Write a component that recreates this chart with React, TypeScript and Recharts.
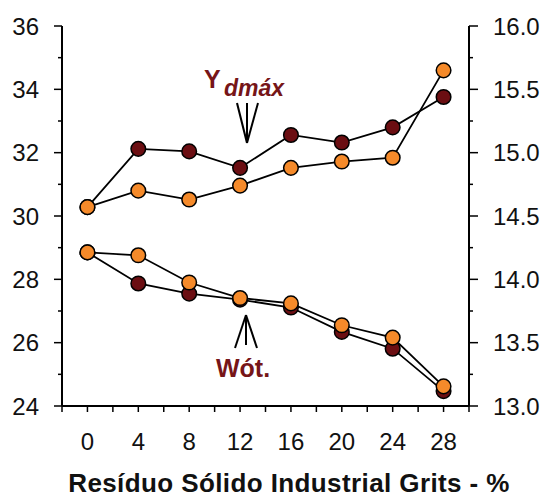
import { Line, LineChart, XAxis, YAxis } from "recharts"

const residue = [0, 4, 8, 12, 16, 20, 24, 28]
const ydmaxDark = [14.57, 15.03, 15.01, 14.88, 15.14, 15.08, 15.2, 15.44]
const ydmaxOrange = [14.57, 14.7, 14.63, 14.74, 14.88, 14.93, 14.96, 15.65]
const wotDark = [28.85, 27.87, 27.55, 27.36, 27.11, 26.34, 25.81, 24.47]
const wotOrange = [28.85, 28.76, 27.9, 27.41, 27.24, 26.55, 26.16, 24.62]

const xTicks = [-2, 0, 2, 4, 6, 8, 10, 12, 14, 16, 18, 20, 22, 24, 26, 28, 30]
const leftTicks = [24, 25, 26, 27, 28, 29, 30, 31, 32, 33, 34, 35, 36]
const rightTicks = [13, 13.25, 13.5, 13.75, 14, 14.25, 14.5, 14.75, 15, 15.25, 15.5, 15.75, 16]

const FONT = '"Liberation Sans", Arial, sans-serif'
const DARK = "#6b0e12"
const ORANGE = "#f58a2a"
const LABEL = "#761518"

const data = residue.map((x, i) => ({
  x,
  ydDark: ydmaxDark[i],
  ydOrange: ydmaxOrange[i],
  wDark: wotDark[i],
  wOrange: wotOrange[i],
}))

function LeftTick({ x, y, payload }: any) {
  const major = payload.value % 2 === 0
  return (
    <g>
      <line x1={x + 15 + (major ? 0 : 4)} x2={x + 23} y1={y} y2={y} stroke="#000" strokeWidth={1.5} />
      {major && (
        <text x={x} y={y} dy="0.36em" textAnchor="end" fontSize={24} fontFamily={FONT} fill="#111">
          {payload.value}
        </text>
      )}
    </g>
  )
}

function RightTick({ x, y, payload }: any) {
  const major = Math.abs(payload.value * 2 - Math.round(payload.value * 2)) < 1e-6
  return (
    <g>
      <line x1={x - 24} x2={x - 15 - (major ? 0 : 5)} y1={y} y2={y} stroke="#000" strokeWidth={1.5} />
      {major && (
        <text x={x} y={y} dy="0.36em" textAnchor="start" fontSize={24} fontFamily={FONT} fill="#111">
          {payload.value.toFixed(1)}
        </text>
      )}
    </g>
  )
}

const dot = (fill: string) => ({ r: 7.3, fill, stroke: "#000", strokeWidth: 1.5 })

export default function App() {
  return (
    <div style={{ position: "absolute", left: 0, top: 0, width: 547, height: 498, background: "#fff" }}>
      <LineChart width={547} height={498} data={data} margin={{ top: 26, right: 0, bottom: 0, left: 0 }}>
        <XAxis
          dataKey="x"
          type="number"
          domain={[-2, 30]}
          ticks={xTicks}
          interval={0}
          height={92}
          tickSize={6}
          tickMargin={21}
          tickFormatter={(v: number) => (v >= 0 && v <= 28 && v % 4 === 0 ? String(v) : "")}
          tick={{ fill: "#111", fontSize: 24, fontFamily: FONT }}
          tickLine={{ stroke: "#000", strokeWidth: 1.5 }}
          axisLine={{ stroke: "#000", strokeWidth: 2 }}
        />
        <XAxis
          xAxisId="top"
          orientation="top"
          dataKey="x"
          type="number"
          domain={[-2, 30]}
          height={0}
          tick={false}
          tickLine={false}
          axisLine={{ stroke: "#000", strokeWidth: 2 }}
        />
        <YAxis
          yAxisId="left"
          type="number"
          domain={[24, 36]}
          ticks={leftTicks}
          interval={0}
          width={62}
          tickSize={8}
          tickMargin={15}
          tickLine={false}
          tick={<LeftTick />}
          axisLine={{ stroke: "#000", strokeWidth: 2 }}
        />
        <YAxis
          yAxisId="right"
          orientation="right"
          type="number"
          domain={[13, 16]}
          ticks={rightTicks}
          interval={0}
          width={78}
          tickSize={9}
          tickMargin={15}
          tickLine={false}
          tick={<RightTick />}
          axisLine={{ stroke: "#000", strokeWidth: 2 }}
        />
        <Line yAxisId="right" dataKey="ydDark" stroke="#000" strokeWidth={1.8} dot={dot(DARK)} isAnimationActive={false} />
        <Line yAxisId="right" dataKey="ydOrange" stroke="#000" strokeWidth={1.8} dot={dot(ORANGE)} isAnimationActive={false} />
        <Line yAxisId="left" dataKey="wDark" stroke="#000" strokeWidth={1.8} dot={dot(DARK)} isAnimationActive={false} />
        <Line yAxisId="left" dataKey="wOrange" stroke="#000" strokeWidth={1.8} dot={dot(ORANGE)} isAnimationActive={false} />
      </LineChart>

      <svg width={547} height={498} style={{ position: "absolute", left: 0, top: 0, pointerEvents: "none" }}>
        <text x={204} y={88} fontSize={25} fontWeight="bold" fontFamily={FONT} fill={LABEL}>
          Y
        </text>
        <text x={224} y={96} fontSize={23} fontWeight="bold" fontStyle="italic" fontFamily={FONT} fill={LABEL}>
          dmáx
        </text>
        <g stroke="#000" strokeWidth={2}>
          <line x1={237} y1={103} x2={247} y2={143} />
          <line x1={258} y1={103} x2={247} y2={143} />
          <line x1={247} y1={103} x2={247} y2={141} />
          <line x1={246} y1={315} x2={235} y2={348} />
          <line x1={246} y1={315} x2={257} y2={348} />
          <line x1={246} y1={317} x2={246} y2={345} />
        </g>
        <text x={216} y={377} fontSize={25} fontWeight="bold" fontFamily={FONT} fill={LABEL}>
          Wót.
        </text>
        <text
          x={289}
          y={492}
          textAnchor="middle"
          fontSize={26}
          letterSpacing={0.4}
          fontWeight="bold"
          fontFamily={FONT}
          fill="#111"
        >
          Resíduo Sólido Industrial Grits - %
        </text>
      </svg>
    </div>
  )
}
